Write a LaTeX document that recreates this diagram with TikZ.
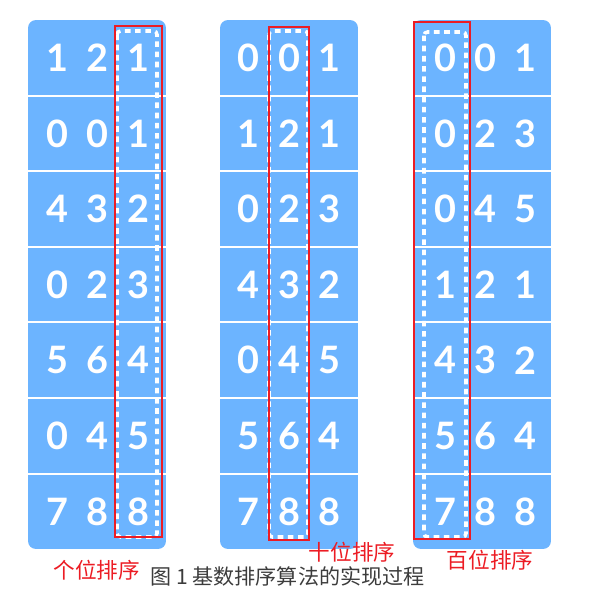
\documentclass[tikz,border=0pt]{standalone}
\usepackage{fontspec}
\newfontfamily\cjk{Noto Sans CJK SC}
\newfontfamily\digitfont{Lato}
\usetikzlibrary{positioning}
\definecolor{cellblue}{RGB}{108,180,255}
\definecolor{markred}{RGB}{236,28,36}
\definecolor{captiongray}{RGB}{60,60,60}
\tikzset{
panel/.style={fill=cellblue,rounded corners=4.5pt,minimum width=2.76cm,
    minimum height=10.58cm,inner sep=0pt},
digit/.style={text=white,font=\digitfont\bfseries\fontsize{21.5}{21.5}\selectfont,
    inner sep=0pt},
rowsep/.style={white,line width=1.2pt},
pass/.style={draw=markred,line width=1.1pt},
keycol/.style={draw=white,line width=2pt,dash pattern=on 3.2pt off 2.6pt,
    rounded corners=2pt},
passlabel/.style={text=markred,font=\cjk\fontsize{12.3}{12.3}\selectfont,inner sep=0pt},
caption/.style={text=captiongray,font=\cjk\fontsize{12}{12}\selectfont,inner sep=0pt},
}

\begin{document}
\begin{tikzpicture}[x=0.02cm,y=-0.02cm]
    \useasboundingbox (0,0) rectangle (609,592);

    % the three passes
    \node[panel] (p1) at (97,284.5) {};
    \node[panel] (p2) at (289,284.5) {};
    \node[panel] (p3) at (482,284.5) {};

    % row separators
    \foreach \px in {28,220,413}
        \foreach \r in {1,...,6}
            \draw[rowsep] (\px,20+75.6*\r) -- (\px+138,20+75.6*\r);

    % digits
    \foreach \a/\b/\c [count=\r from 0] in
        {1/2/1,0/0/1,4/3/2,0/2/3,5/6/4,0/4/5,7/8/8} {
        \node[digit] (a1\r) at (57,57.8+75.6*\r) {\a};
        \node[digit] (b1\r) at (97,57.8+75.6*\r) {\b};
        \node[digit] (c1\r) at (138,57.8+75.6*\r) {\c};
    }
    \foreach \a/\b/\c [count=\r from 0] in
        {0/0/1,1/2/1,0/2/3,4/3/2,0/4/5,5/6/4,7/8/8} {
        \node[digit] (a2\r) at (248,57.8+75.6*\r) {\a};
        \node[digit] (b2\r) at (289,57.8+75.6*\r) {\b};
        \node[digit] (c2\r) at (329,57.8+75.6*\r) {\c};
    }
    \foreach \a/\b/\c [count=\r from 0] in
        {0/0/1,0/2/3,0/4/5,1/2/1,4/3/2,5/6/4,7/8/8} {
        \node[digit] (a3\r) at (445,57.8+75.6*\r) {\a};
        \node[digit] (b3\r) at (485,57.8+75.6*\r) {\b};
        \node[digit] (c3\r) at (525,57.8+75.6*\r) {\c};
    }

    % column being sorted
    \draw[keycol] (117,31) rectangle (157,537);
    \draw[keycol] (269,31) rectangle (308,537);
    \draw[keycol] (424,32) rectangle (466,537);
    \draw[pass] (115,26) rectangle (162,537);
    \draw[pass] (269,27) rectangle (309,540);
    \draw[pass] (414,22) rectangle (470,539);

    \node[passlabel] (l1) at (97,570) {个位排序};
    \node[passlabel] (l2) at (352,552) {十位排序};
    \node[passlabel] (l3) at (490,560) {百位排序};
    \node[caption, anchor=west] (cap) at (150,576) {图 1 基数排序算法的实现过程};
\end{tikzpicture}
\end{document}
